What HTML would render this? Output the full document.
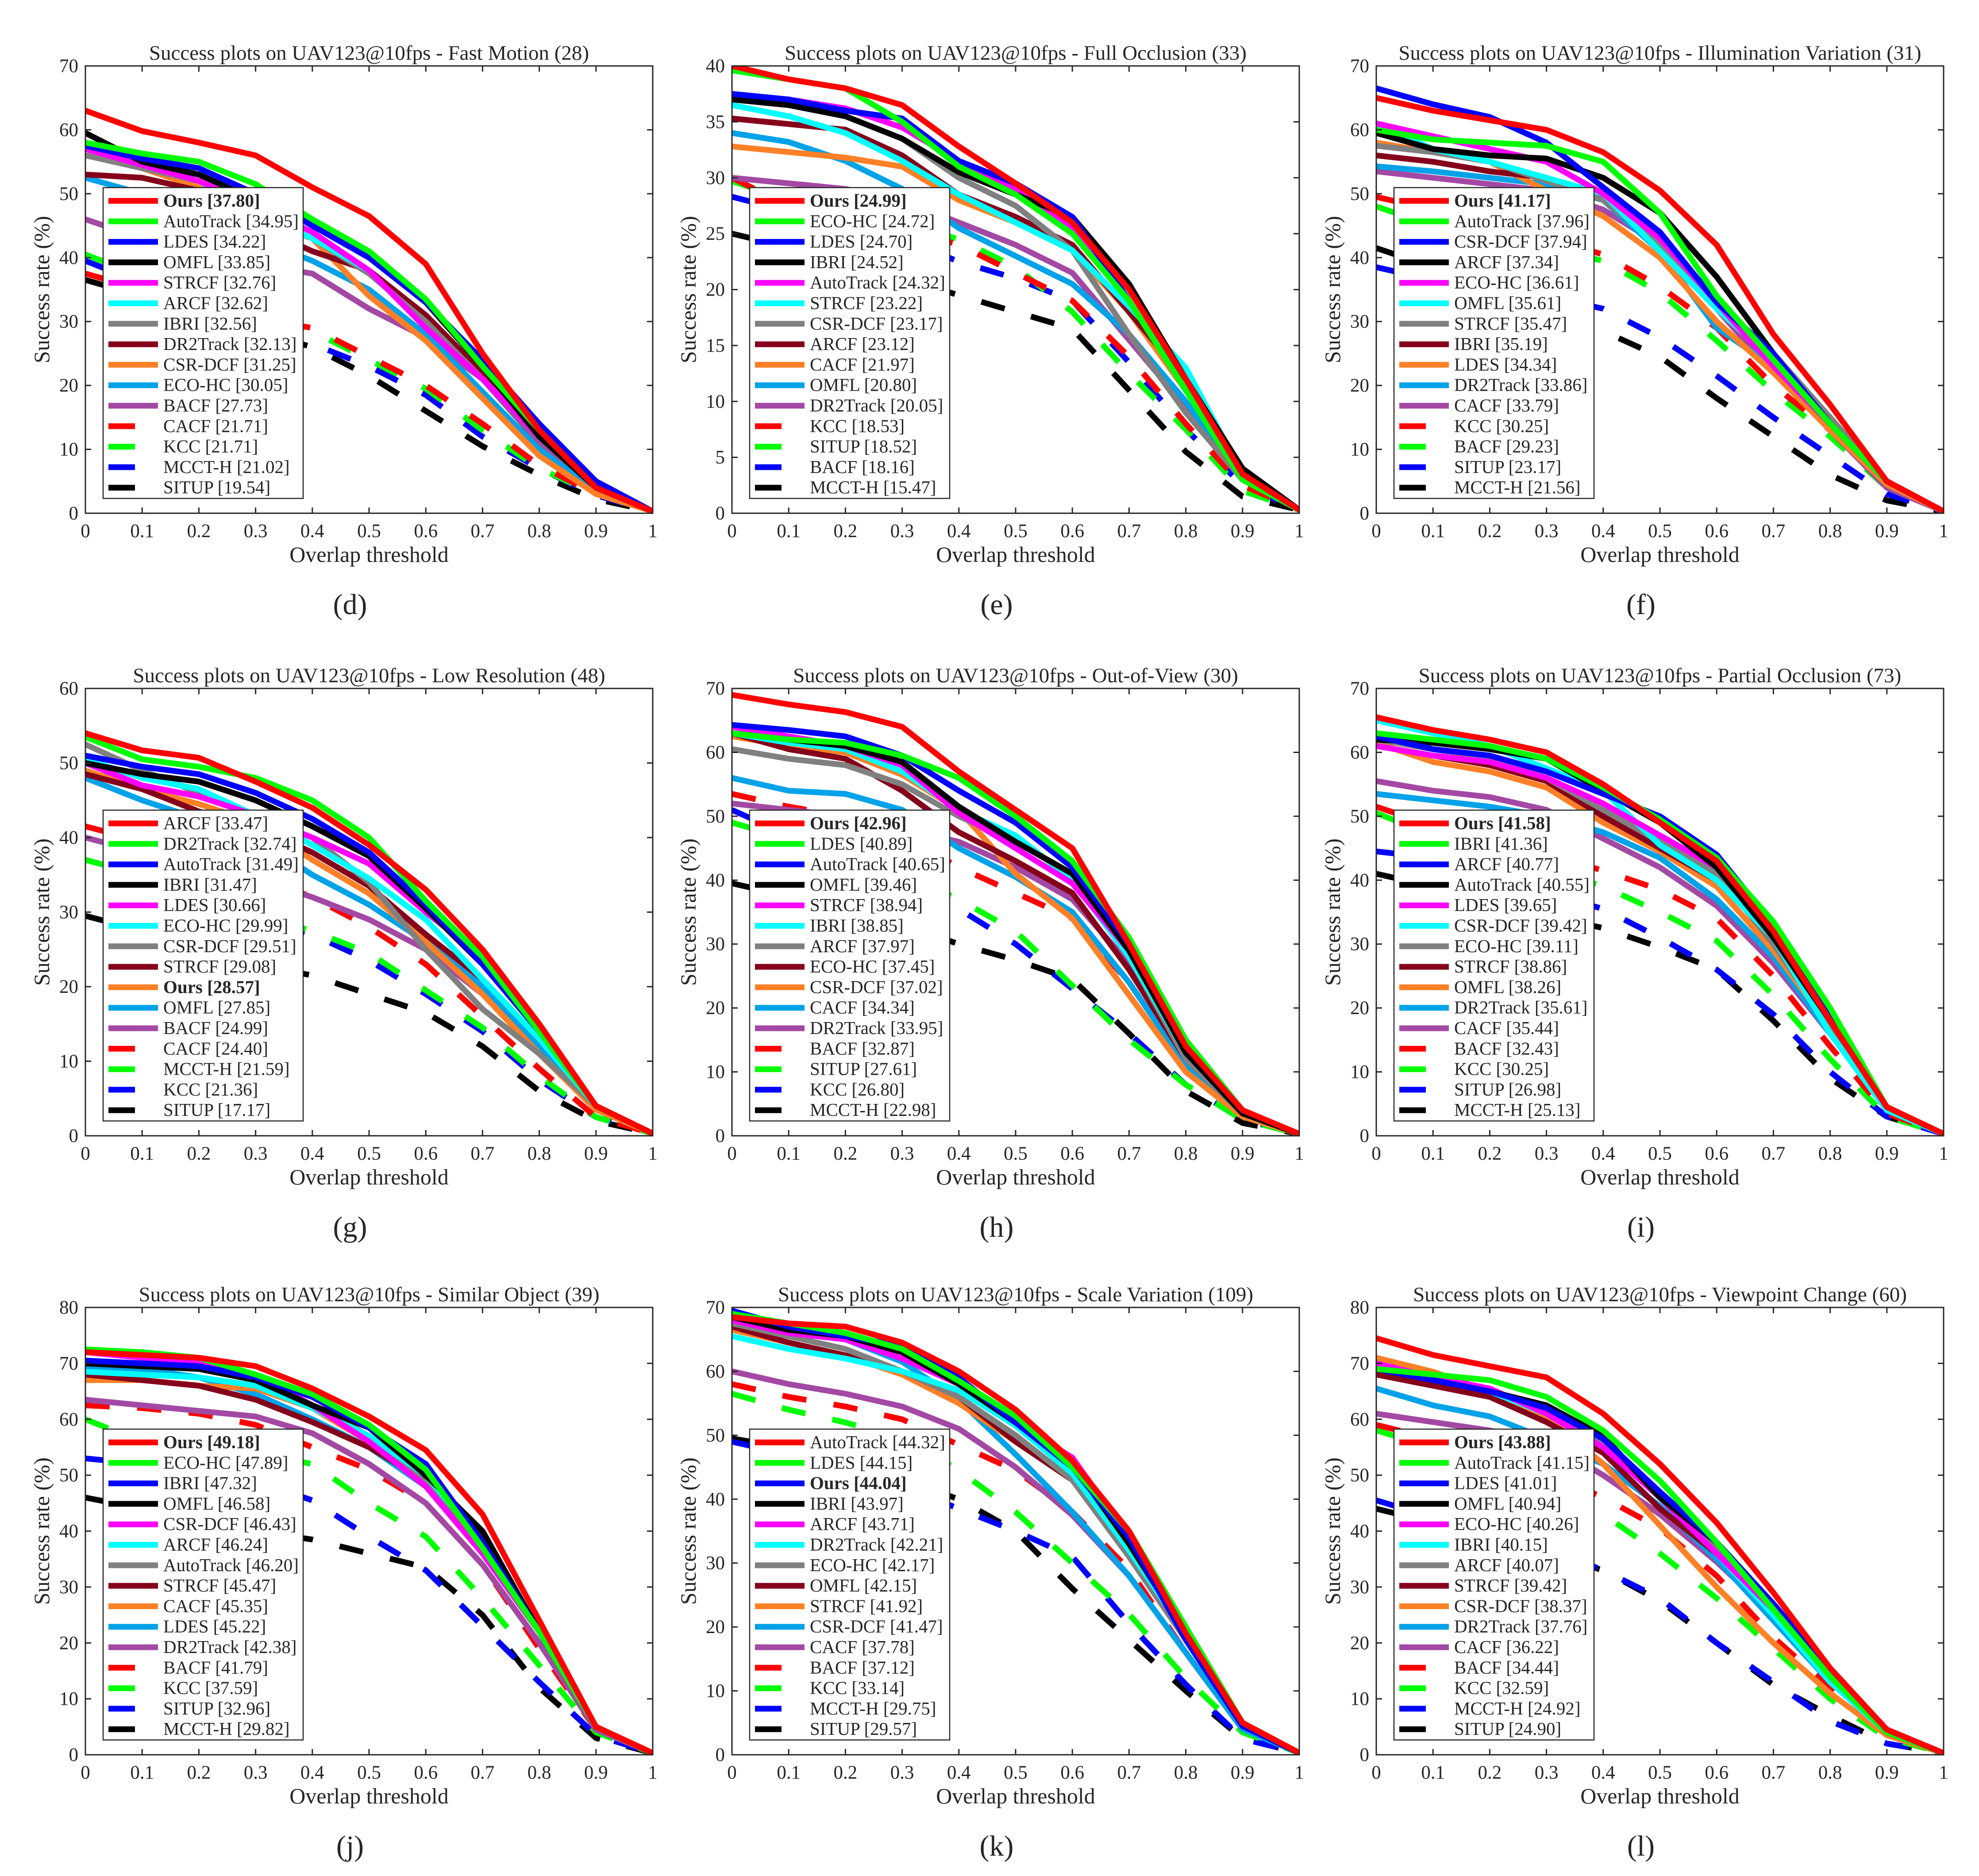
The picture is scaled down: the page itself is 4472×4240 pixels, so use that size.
<!DOCTYPE html>
<html><head><meta charset="utf-8"><style>
html,body{margin:0;padding:0;background:#fff;}
svg{display:block;}
text{font-family:"Liberation Serif",serif;fill:#262626;}
</style></head><body>
<svg id="fig" width="4472" height="4240" viewBox="0 0 4472 4240" xmlns="http://www.w3.org/2000/svg"></svg>
<script>
const thresholds=[0,0.1,0.2,0.3,0.4,0.5,0.6,0.7,0.8,0.9,1];
const xTickLabels=["0","0.1","0.2","0.3","0.4","0.5","0.6","0.7","0.8","0.9","1"];

const dNames=["Ours","AutoTrack","LDES","OMFL","STRCF","ARCF","IBRI","DR2Track","CSR-DCF","ECO-HC","BACF","CACF","KCC","MCCT-H","SITUP"];
const dScores=["37.80","34.95","34.22","33.85","32.76","32.62","32.56","32.13","31.25","30.05","27.73","21.71","21.71","21.02","19.54"];
const dSeries=[
[63,59.8,58,56,51,46.5,39,25,13,4,0.3],[58,56.3,55,51.5,46,41,33.5,23,13,4,0.3],[57.5,55.5,54,50,45,40,33,24,14,5,0.3],
[59.5,55,53,49,45.5,40,33,23,12,4,0.3],[57,54.5,52,48,44,38,29,21,12,4,0.3],[57,55,52,47,43,38,29,21,12,4,0.3],
[56,54,52,47,43,37.5,30,21,12,4,0.3],[53,52.5,50.5,45,41,38,31,22,12,4,0.3],[57,54,51,46,43,34,27,18,9,3,0.3],
[52.5,50,47,43,39.5,35,28,19,10,3.5,0.3],[46,43,41,39,37.5,32,27.5,21,11,3.5,0.3],[37.5,35,33,30.5,29,24.5,20,14,7.5,3,0.3],
[40.5,37,34,31,28.5,24,19.5,13,7,3,0.3],[39.5,36,33,29,26.5,23,18.5,12,7,2.8,0.3],[36.5,34,31.5,28.5,26,21.5,16,10.5,6,2.2,0.3]];

const eNames=["Ours","ECO-HC","LDES","IBRI","AutoTrack","STRCF","CSR-DCF","ARCF","CACF","OMFL","DR2Track","KCC","SITUP","BACF","MCCT-H"];
const eScores=["24.99","24.72","24.70","24.52","24.32","23.22","23.17","23.12","21.97","20.80","20.05","18.53","18.52","18.16","15.47"];
const eSeries=[
[40,38.8,38,36.5,32.8,29.5,26,20,12,3.5,0.3],[39.6,38.8,38,35,31,28.5,25,19,11,3,0.3],[37.5,37,36,35.3,31.5,29.5,26.5,19,11,3.5,0.3],
[37,36.5,35.5,33.5,30.5,28.5,26.5,20.5,12,4,0.3],[37.5,37,36.2,34.5,31.5,29,25.5,19,11,3.5,0.3],[36.5,35.5,34,31.5,28.5,26,23.5,18.5,13,3.5,0.3],
[37,36.5,35.5,33.5,30,27.5,23.5,16,9,3,0.3],[35.3,34.8,34.3,32,28.5,26.5,24,18,12,3.8,0.3],[32.8,32.3,31.8,31,28,26,23.5,18,11,3.5,0.3],
[34,33.2,31.5,29,25.5,23,20.5,16,10,3,0.3],[30,29.5,29,28,26,24,21.5,15.5,9.5,3,0.3],[30,27.5,26.5,25.5,24,21.5,19,14,8,2.5,0.3],
[29.7,28,27,26,24.5,22,18,12.5,7.5,2,0.3],[28.3,27,26,24.5,22.5,21,19,13.5,7.5,2.5,0.3],[25,23.8,22,21,19.5,18,16.5,11,5.5,1.5,0.3]];

const fNames=["Ours","AutoTrack","CSR-DCF","ARCF","ECO-HC","OMFL","STRCF","IBRI","LDES","DR2Track","CACF","KCC","BACF","SITUP","MCCT-H"];
const fScores=["41.17","37.96","37.94","37.34","36.61","35.61","35.47","35.19","34.34","33.86","33.79","30.25","29.23","23.17","21.56"];
const fSeries=[
[65,63,61.5,60,56.5,50.5,42,28,17,5,0.3],[60,58.5,58,57.5,55,47,34,24,14,5,0.3],[66.5,64,62,58,51,44,33,25,14,5,0.3],
[59.5,57,56,55.5,52.5,47,37,25,14,5,0.3],[61,59,57,55,50,43,33,23,14,5,0.3],[61,57,55,52.5,50,41,32,24,14,5,0.3],
[57.5,56.5,55,52,49,42,32,25,15,5,0.3],[56,55,53.5,52.5,49.5,42,34,23,14,5,0.3],[58,56.5,55,50.5,46.5,40,30,22,13,4.5,0.3],
[54.3,53.5,52.5,51.5,49,41,29,23,13,4.5,0.3],[53.5,52.5,51.5,50.5,47.5,42,32,22,13,4,0.3],[49.5,47.5,45,43,40.5,35.5,29,20,13,4,0.3],
[48,45,43,41.5,39.5,34.5,27,19,12,4,0.3],[38.5,36.5,35,34,32,27.5,21.5,15,9,3,0.3],[41.5,38.5,35,32,28.5,24.5,18,12,6,2,0.3]];

const gNames=["ARCF","DR2Track","AutoTrack","IBRI","LDES","ECO-HC","CSR-DCF","STRCF","Ours","OMFL","BACF","CACF","MCCT-H","KCC","SITUP"];
const gScores=["33.47","32.74","31.49","31.47","30.66","29.99","29.51","29.08","28.57","27.85","24.99","24.40","21.59","21.36","17.17"];
const gSeries=[
[54,51.7,50.7,47.5,44,39,33,25,15,4,0.3],[53.5,50.5,49.5,48,45,40,31.5,24,14,4,0.3],[51,49.5,48.5,46,42.5,38,31,23,14,4,0.3],
[50,48.5,47.5,45,41.5,37.5,30.5,23,14,4,0.3],[50,47,45.5,43,40,36.5,30,24,14.5,4,0.3],[50.5,48,46.5,43,39,34.5,29,21,13,4,0.3],
[52.5,49,46,43,40,34,25,17,11,4,0.3],[48.5,46.5,43.5,41.5,38,33.5,27,21,13,4,0.3],[49,46.5,44.5,42,37,32.5,26,19,11,3.5,0.3],
[48,45,42.5,40,35,31,26,20,12,3.5,0.3],[40,38,36,34.5,32,29,25,19,11,3.5,0.3],[41.5,39.5,37,35,32,28,23,16,9,2.5,0.3],
[37,35,32,29.5,27.5,24.5,19.5,14.5,8,2.5,0.3],[37,35,32,29,27,23.5,19,14,7.5,2.5,0.3],[29.5,27.5,25,23,21.5,19,16.5,12,6,2,0.3]];

const hNames=["Ours","LDES","AutoTrack","OMFL","STRCF","IBRI","ARCF","ECO-HC","CSR-DCF","CACF","DR2Track","BACF","SITUP","KCC","MCCT-H"];
const hScores=["42.96","40.89","40.65","39.46","38.94","38.85","37.97","37.45","37.02","34.34","33.95","32.87","27.61","26.80","22.98"];
const hSeries=[
[69,67.5,66.3,64,57,51,45,30,14,4,0.3],[63,62,61.5,59.5,56,50,43,31,15,4,0.3],[64.3,63.5,62.5,59.5,54,49,42,30,15,4,0.3],
[63,62,61,58.5,51.5,46,41,29,13,3.5,0.3],[64,62.5,61,58,50.5,45,39.5,29,13,3.5,0.3],[63,61.5,60.5,57,51,47,40,28,13,3.5,0.3],
[60.5,59,58,55,50,46,41,28,12,3.5,0.3],[63,60.5,59,54,47.5,43,38,26,12,3.5,0.3],[62.5,61,60,56.5,51,41,34,22,10,3,0.3],
[56,54,53.5,51,45,40.5,35,24,11,3,0.3],[52,51,50,48,46,42,37,27,13,3.5,0.3],[53.5,51.5,50,47,42,38,34,24,11,3,0.3],
[49,46.5,44,41,37,32,23.5,15,8,2.5,0.3],[51,47,44,40,35.5,30,23,16,8,2.5,0.3],[39.5,37.5,35.5,33,30,27.5,24.5,16,7,2,0.3]];

const iNames=["Ours","IBRI","ARCF","AutoTrack","LDES","CSR-DCF","ECO-HC","STRCF","OMFL","DR2Track","CACF","BACF","KCC","SITUP","MCCT-H"];
const iScores=["41.58","41.36","40.77","40.55","39.65","39.42","39.11","38.86","38.26","35.61","35.44","32.43","30.25","26.98","25.13"];
const iSeries=[
[65.5,63.5,62,60,55,49,43,32,18,4.5,0.3],[63,62,61,59,54.5,49.5,43.5,33.5,20,4.5,0.3],[62.5,60.5,59.5,57,53.5,50,44,33,19,4.5,0.3],
[62,61.5,60.5,59,54,49,42,31,18,4.5,0.3],[61,59.5,58.5,56,52,47,42,32,18,4.5,0.3],[65,63,61,57.5,54,45.5,40,31,16,4,0.3],
[62,60.5,59,56,51,46,41,30,17,4.5,0.3],[61,59.5,58,55.5,50,45,40,31,18,4.5,0.3],[61.5,58.5,57,54.5,49,44.5,39,29,17,4,0.3],
[53.5,52.5,51.5,50,47.5,43.5,37,28,16,4,0.3],[55.5,54,53,51,46.5,42,36,27,16,4,0.3],[51.5,48.5,46,44,41.5,38.5,34,25,14,3.5,0.3],
[50.5,47,44,42,39,35,30.5,22,12,3,0.3],[44.5,43.5,40,38,35.5,31,26,19,10,3,0.3],[41,39,37,34.5,32.5,29.5,26,18,9,3,0.3]];

const jNames=["Ours","ECO-HC","IBRI","OMFL","CSR-DCF","ARCF","AutoTrack","STRCF","CACF","LDES","DR2Track","BACF","KCC","SITUP","MCCT-H"];
const jScores=["49.18","47.89","47.32","46.58","46.43","46.24","46.20","45.47","45.35","45.22","42.38","41.79","37.59","32.96","29.82"];
const jSeries=[
[72,71.5,71,69.5,65.5,60.5,54.5,43,24,5,0.3],[72.5,72,71,68,64.5,59,51,37,22,5,0.3],[70.5,70,69.5,67.5,64,58.5,52,38,22,5,0.3],
[70,69.5,69,67,62.5,58.5,50,40,22,5,0.3],[72,71,70,68,62.5,56,48,36,22,5,0.3],[68.5,68,67.5,66,62,57,50,38,22,5,0.3],
[70,69.5,69,67,62.5,57,48.5,37,22,5,0.3],[68,67,66,63.5,59.5,55,49,39,22,5,0.3],[67,67,66,65.5,62,56,48,36,22,5,0.3],
[69,69,67.5,64.5,60,55,48,36,22,5,0.3],[63.5,62.5,61.5,60.5,57.5,52,45,34,20,4.5,0.3],[62.5,62,61,59,55,51,45,34,19,4.5,0.3],
[60,56,56,54,52,45,39,28,16,4,0.3],[53,52,51,49,45.5,39,33,23,13,3.5,0.3],[46,44,42,40,38.5,36,33.5,25,12,3,0.3]];

const kNames=["AutoTrack","LDES","Ours","IBRI","ARCF","DR2Track","ECO-HC","OMFL","STRCF","CSR-DCF","CACF","BACF","KCC","MCCT-H","SITUP"];
const kScores=["44.32","44.15","44.04","43.97","43.71","42.21","42.17","42.15","41.92","41.47","37.78","37.12","33.14","29.75","29.57"];
const kSeries=[
[68.5,67.5,67,64.5,60,54,46,35,19,5,0.3],[69,67.5,66,63.5,58.5,53,45,35,20,5,0.3],[69.5,67,65.5,64,59,52,45,34,18,4.5,0.3],
[68.5,66.5,65.5,63,58,52,45.5,33,19,4.5,0.3],[68,66,65,62,58,52,46.5,34,19,4.5,0.3],[65.5,63.5,62,60,57,51.5,44,32,19,4.5,0.3],
[67.5,65.5,63.5,60,56,50,43,31,18,4.5,0.3],[67,64.5,62.5,60,56,49,43,32,18,4.5,0.3],[66.5,64.5,62.5,59.5,55,49,43,33,20,5,0.3],
[69,67,65,61.5,55.5,47,38,28,16,4,0.3],[60,58,56.5,54.5,51,45,37.5,28,16,4,0.3],[58,56,54.5,52.5,48.5,44.5,38,29,16,4,0.3],
[56.5,54,52,49.5,44.5,38,30,22,12,3.5,0.3],[49,47,45,42,38.5,35,31,20.5,11,2.5,0.3],[49.5,48,46,43,40,35,26,18,10,2.5,0.3]];

const lNames=["Ours","AutoTrack","LDES","OMFL","ECO-HC","IBRI","ARCF","STRCF","CSR-DCF","DR2Track","CACF","BACF","KCC","MCCT-H","SITUP"];
const lScores=["43.88","41.15","41.01","40.94","40.26","40.15","40.07","39.42","38.37","37.76","36.22","34.44","32.59","24.92","24.90"];
const lSeries=[
[74.5,71.5,69.5,67.5,61,52,41.5,29,15.5,4.5,0.3],[69,68,67,64,58,49,38,26,14,4,0.3],[69,67,65,62,56.5,47,38,27,15,4.5,0.3],
[69,67,65,62.5,57,46,38,27,14,4,0.3],[70,67.5,65.5,61,55,46,36,26,14,4,0.3],[70,67.5,65,61,55,46,36,25,13,4,0.3],
[69,67,65,61,56,47,37,26,14,4,0.3],[68,66,64,59.5,54,44,36,27,15,4,0.3],[71,68.5,65,60.5,52,41,30,20,11,3.5,0.3],
[65.5,62.5,60.5,56.5,52,44.5,35,24,13,4,0.3],[61,59.5,58,56,50,43,34.5,25,14,4,0.3],[59,56.5,54,50.5,46,40.5,32,21,12,3.5,0.3],
[58,55,52,48.5,43,36,28,19,10,3,0.3],[45.5,42.5,40,37,33,28,20,13,6,2,0.3],[44,41.5,39,36,33,27.5,20,12.5,7,2,0.3]];

const colors=["#ff0000","#00ff00","#0000ff","#000000","#ff00ff","#00ffff","#808080","#85001a","#ff8026","#00a2e8","#a349a4","#ff0000","#00ff00","#0000ff","#000000"];

const panels=[
 {key:"d",title:"Fast Motion (28)",ymax:70,ystep:10,names:dNames,scores:dScores,series:dSeries,col:0,row:0},
 {key:"e",title:"Full Occlusion (33)",ymax:40,ystep:5,names:eNames,scores:eScores,series:eSeries,col:1,row:0},
 {key:"f",title:"Illumination Variation (31)",ymax:70,ystep:10,names:fNames,scores:fScores,series:fSeries,col:2,row:0},
 {key:"g",title:"Low Resolution (48)",ymax:60,ystep:10,names:gNames,scores:gScores,series:gSeries,col:0,row:1},
 {key:"h",title:"Out-of-View (30)",ymax:70,ystep:10,names:hNames,scores:hScores,series:hSeries,col:1,row:1},
 {key:"i",title:"Partial Occlusion (73)",ymax:70,ystep:10,names:iNames,scores:iScores,series:iSeries,col:2,row:1},
 {key:"j",title:"Similar Object (39)",ymax:80,ystep:10,names:jNames,scores:jScores,series:jSeries,col:0,row:2},
 {key:"k",title:"Scale Variation (109)",ymax:70,ystep:10,names:kNames,scores:kScores,series:kSeries,col:1,row:2},
 {key:"l",title:"Viewpoint Change (60)",ymax:80,ystep:10,names:lNames,scores:lScores,series:lSeries,col:2,row:2}
];

const NS="http://www.w3.org/2000/svg";
const svg=document.getElementById("fig");
const colX=[193,1654,3110], rowY=[149,1556,2955], W=1282, H=1011;
function mk(tag,parent,attrs){const e=document.createElementNS(NS,tag);for(const k in attrs)e.setAttribute(k,attrs[k]);parent.appendChild(e);return e;}

panels.forEach(p=>{
  const L=colX[p.col], T=rowY[p.row];
  const xs=v=>L+v*W, ys=v=>T+H-(v/p.ymax)*H;
  const g=mk("g",svg,{});
  
  
  const clipId="clip"+p.key;
  const cp=mk("clipPath",g,{id:clipId}); mk("rect",cp,{x:L,y:T,width:W,height:H});
  const sg=mk("g",g,{"clip-path":"url(#"+clipId+")"});
  for(let s=p.series.length-1;s>=0;s--){
    const pts=p.series[s].map((v,i)=>xs(thresholds[i]).toFixed(1)+","+ys(v).toFixed(1)).join(" ");
    const pl=mk("polyline",sg,{points:pts,fill:"none",stroke:colors[s],"stroke-width":13,"stroke-linejoin":"round","stroke-linecap":s>=11?"butt":"round"});
    if(s>=11)pl.setAttribute("stroke-dasharray","55 62");
    
    
  }
  const box=mk("rect",g,{x:L,y:T,width:W,height:H,fill:"none",stroke:"#262626","stroke-width":3});
  
  
  thresholds.forEach((t,i)=>{
    const x=xs(t);
    mk("line",g,{x1:x,y1:T+H,x2:x,y2:T+H-13,stroke:"#262626","stroke-width":3});
    mk("line",g,{x1:x,y1:T,x2:x,y2:T+13,stroke:"#262626","stroke-width":3});
    const tx=mk("text",g,{x:x,y:T+H+54,"font-size":43,"text-anchor":"middle"});
    tx.textContent=xTickLabels[i];
    
    
  });
  for(let v=0;v<=p.ymax;v+=p.ystep){
    const y=ys(v);
    mk("line",g,{x1:L,y1:y,x2:L+13,y2:y,stroke:"#262626","stroke-width":3});
    mk("line",g,{x1:L+W,y1:y,x2:L+W-13,y2:y,stroke:"#262626","stroke-width":3});
    const ty=mk("text",g,{x:L-16,y:y+14,"font-size":43,"text-anchor":"end"});
    ty.textContent=String(v);
    
    
  }
  const title=mk("text",g,{x:L+W/2,y:T-14,"font-size":47,"text-anchor":"middle",fill:"#000"});
  title.textContent="Success plots on UAV123@10fps - "+p.title;
  
  
  const xl=mk("text",g,{x:L+W/2,y:T+H+110,"font-size":50,"text-anchor":"middle"});
  xl.textContent="Overlap threshold";
  
  
  const yl=mk("text",g,{x:0,y:0,"font-size":50,"text-anchor":"middle",transform:"translate("+(L-82)+","+(T+H/2)+") rotate(-90)"});
  yl.textContent="Success rate (%)";
  
  
  const cap=mk("text",g,{x:L+598,y:T+H+228,"font-size":66,"text-anchor":"middle",fill:"#000"});
  cap.textContent="("+p.key+")";
  
  
  const lx=L+40, ly=T+275, rh=46.3;
  const lg=mk("g",g,{});
  
  
  const lbox=mk("rect",lg,{x:lx,y:ly,width:440,height:rh*15+8,fill:"#fff",stroke:"#262626","stroke-width":2.5});
  let maxW=0;
  p.names.forEach((n,s)=>{
    const cy=ly+30+s*rh;
    const ln=mk("line",lg,{x1:lx+12,y1:cy,x2:lx+(s>=11?72:124),y2:cy,stroke:colors[s],"stroke-width":13});
    
    
    const t=mk("text",lg,{x:lx+136,y:cy+13,"font-size":41,fill:"#000"});
    if(n==="Ours")t.setAttribute("font-weight","bold");
    t.textContent=n+" ["+p.scores[s]+"]";
    
    
    maxW=Math.max(maxW,t.getComputedTextLength());
  });
  lbox.setAttribute("width",Math.round(136+maxW+10));
});
</script>
</body></html>
